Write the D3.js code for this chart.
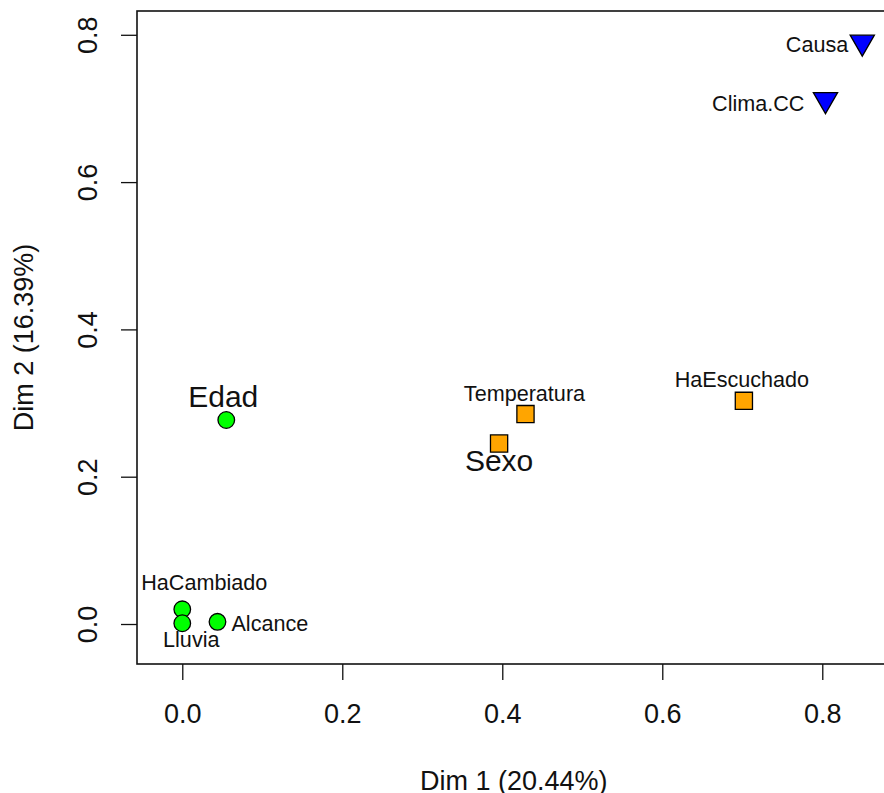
<!DOCTYPE html>
<html>
<head>
<meta charset="utf-8">
<script src="https://cdn.jsdelivr.net/npm/d3@7"></script>
<style>
  body { margin: 0; background: #fff; }
  svg text { font-family: "Liberation Sans", Arial, sans-serif; fill: #111; }
</style>
</head>
<body>
<div class="container"></div>
<script>
let width = 884
let height = 793

// variables and their coordinates on the first two dimensions
let names = ["Causa", "Clima.CC", "HaEscuchado", "Temperatura", "Sexo", "Edad", "HaCambiado", "Lluvia", "Alcance"]
let dim1 = [0.850, 0.804, 0.702, 0.429, 0.396, 0.055, 0.000, 0.000, 0.044]
let dim2 = [0.790, 0.712, 0.303, 0.285, 0.245, 0.277, 0.020, 0.001, 0.003]
let group = ["blue", "blue", "orange", "orange", "orange", "green", "green", "green", "green"]
let bigLabel = ["Edad", "Sexo"]

let xTicks = [0, 0.2, 0.4, 0.6, 0.8]
let yTicks = [0, 0.2, 0.4, 0.6, 0.8]
let xTitle = "Dim 1 (20.44%)"
let yTitle = "Dim 2 (16.39%)"

// label placement: anchor and nudge from the point, in px
let labelAnchor = ["end", "end", "middle", "middle", "middle", "middle", "middle", "middle", "start"]
let labelDx = [-14, -21, -2, -1, 0, -3, 22, 9, 14]
let labelDy = [10, 11, -14, -13, 27, -13, -19, 24, 9]

let colors = { blue: "#0000ff", orange: "#ffa500", green: "#00ff00" }
let shapes = { blue: "triangle", orange: "square", green: "circle" }

let plotLeft = 137, plotRight = 890.6, plotTop = 11, plotBottom = 664

let x = d3.scaleLinear().domain([-0.0566, 0.8854]).range([plotLeft, plotRight])
let y = d3.scaleLinear().domain([-0.0543, 0.8323]).range([plotBottom, plotTop])

let svg = d3.select(".container")
  .append("svg")
  .attr("width", width)
  .attr("height", height)

// x axis
let gx = svg.append("g")
  .attr("transform", `translate(0,${plotBottom})`)
  .call(d3.axisBottom(x).tickValues(xTicks).tickSize(16).tickFormat(d3.format(".1f")))
gx.select(".domain").remove()
gx.selectAll("line").attr("stroke", "#111").attr("stroke-width", 1.3)
gx.selectAll("text")
  .attr("y", 50)
  .attr("dy", "0.35em")
  .attr("font-size", "27px")
  .attr("fill", "#111")
  .style("font-family", "Liberation Sans, Arial, sans-serif")

// y axis, labels rotated like base R
let gy = svg.append("g")
  .attr("transform", `translate(${plotLeft},0)`)
  .call(d3.axisLeft(y).tickValues(yTicks).tickSize(16).tickFormat(d3.format(".1f")))
gy.select(".domain").remove()
gy.selectAll("line").attr("stroke", "#111").attr("stroke-width", 1.3)
gy.selectAll("text")
  .attr("x", null)
  .attr("text-anchor", "middle")
  .attr("transform", "translate(-49,0) rotate(-90)")
  .attr("dy", "0.35em")
  .attr("font-size", "27px")
  .attr("fill", "#111")
  .style("font-family", "Liberation Sans, Arial, sans-serif")

// box
svg.append("rect")
  .attr("x", plotLeft)
  .attr("y", plotTop)
  .attr("width", plotRight - plotLeft)
  .attr("height", plotBottom - plotTop)
  .attr("fill", "none")
  .attr("stroke", "#111")
  .attr("stroke-width", 1.6)

// axis titles
svg.append("text")
  .attr("x", (plotLeft + plotRight) / 2)
  .attr("y", 789.5)
  .attr("text-anchor", "middle")
  .attr("font-size", "27px")
  .text(xTitle)

svg.append("text")
  .attr("transform", `translate(24,${(plotTop + plotBottom) / 2}) rotate(-90)`)
  .attr("dy", "0.35em")
  .attr("text-anchor", "middle")
  .attr("font-size", "27px")
  .text(yTitle)

let data = names.map(function (n, i) {
  return { name: n, d1: dim1[i], d2: dim2[i], group: group[i], i: i }
})

function markPath(d) {
  let cx = x(d.d1), cy = y(d.d2)
  let shape = shapes[d.group]
  if (shape == "circle") {
    let r = 8.3
    return `M${cx - r},${cy}a${r},${r} 0 1,0 ${2 * r},0a${r},${r} 0 1,0 ${-2 * r},0Z`
  } else if (shape == "square") {
    let h = 8.6
    return `M${cx - h},${cy - h}H${cx + h}V${cy + h}H${cx - h}Z`
  } else {
    // R pch 25, point-down triangle
    let s = 9.0
    let xc = 1.3468 * s, yc = 0.7776 * s, r = 1.5551 * s
    return `M${cx - xc},${cy - yc}L${cx + xc},${cy - yc}L${cx},${cy + r}Z`
  }
}

svg.selectAll(".mark")
  .data(data)
  .enter()
  .append("path")
  .attr("class", "mark")
  .attr("d", markPath)
  .attr("fill", function (d) { return colors[d.group] })
  .attr("stroke", "#000")
  .attr("stroke-width", 1.3)

svg.selectAll(".label")
  .data(data)
  .enter()
  .append("text")
  .attr("class", "label")
  .attr("x", function (d) { return x(d.d1) + labelDx[d.i] })
  .attr("y", function (d) { return y(d.d2) + labelDy[d.i] })
  .attr("text-anchor", function (d) { return labelAnchor[d.i] })
  .attr("font-size", function (d) { return bigLabel.includes(d.name) ? "30px" : "21.6px" })
  .text(function (d) { return d.name })
</script>
</body>
</html>
